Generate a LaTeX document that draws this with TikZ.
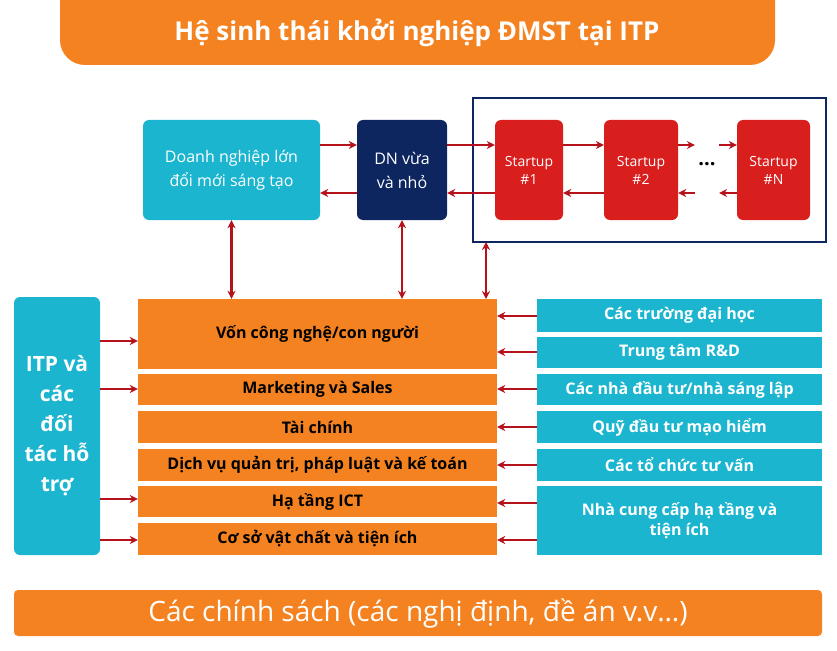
\documentclass[tikz,border=0pt]{standalone}
\usepackage{fontspec}
\setmainfont{Open Sans}
\usetikzlibrary{arrows.meta}
\definecolor{org}{HTML}{F58220}
\definecolor{cy}{HTML}{1CB5CF}
\definecolor{nv}{HTML}{0D2660}
\definecolor{rd}{HTML}{D91E1E}
\definecolor{ar}{HTML}{B5121B}
\begin{document}
\begin{tikzpicture}[x=1pt,y=-1pt,
 bx/.style={inner sep=0pt,align=center,text=white},
 ob/.style={bx,fill=org,text=black,font=\bfseries\fontsize{16}{19}\selectfont},
 cb/.style={bx,fill=cy,font=\bfseries\fontsize{16}{20}\selectfont},
 arr/.style={ar,line width=2.2pt,-{Stealth[length=8pt,width=8pt]}},
 darr/.style={ar,line width=2.2pt,{Stealth[length=8pt,width=8pt]}-{Stealth[length=8pt,width=8pt]}}]
\useasboundingbox (0,0) rectangle (837,650);
\fill[white] (0,0) rectangle (837,650);
\fill[org,rounded corners=25pt] (60,-30) rectangle (775,65);
\node[bx,font=\bfseries\fontsize{26}{29}\selectfont] (title) at (417,33) {Hệ sinh thái khởi nghiệp ĐMST tại ITP};
\node[bx,fill=cy,rounded corners=6pt,minimum width=177pt,minimum height=100pt,font=\fontsize{16}{24}\selectfont] (dnl) at (231.5,170) {Doanh nghiệp lớn\\đổi mới sáng tạo};
\node[bx,fill=nv,rounded corners=6pt,minimum width=90pt,minimum height=100pt,font=\fontsize{16}{24}\selectfont] (dnv) at (402,170) {DN vừa\\và nhỏ};
\draw[nv,line width=2pt] (473,98) rectangle (826,242);
\foreach \n/\x/\w/\t in {s1/529/68/1,s2/641/74/2,sn/773.5/73/N}
 \node[bx,fill=rd,rounded corners=6pt,minimum width=\w pt,minimum height=100pt,font=\fontsize{14}{18}\selectfont] (\n) at (\x,170) {Startup\\\#\t};
\node[font=\bfseries\fontsize{20}{20}\selectfont] (dots) at (707,164) {...};
\foreach \a/\b in {dnl/dnv,dnv/s1,s1/s2,s2/dots,dots/sn}{
 \draw[arr] (\a.east |- 0,145) -- (\b.west |- 0,145);
 \draw[arr] (\b.west |- 0,193) -- (\a.east |- 0,193);}
\node[bx,fill=cy,rounded corners=6pt,minimum width=86pt,minimum height=258pt,font=\bfseries\fontsize{21}{30}\selectfont] (itp) at (57,426) {ITP và\\các\\đối\\tác hỗ\\trợ};
\foreach \n/\ya/\yb/\t in {o1/299/369/{Vốn công nghệ/con người},o2/374/405/Marketing và Sales,o3/411/443/Tài chính,o4/449/481/{Dịch vụ quản trị, pháp luật và kế toán},o5/486/517/Hạ tầng ICT,o6/523/555/Cơ sở vật chất và tiện ích}
 \node[ob,minimum width=359pt,minimum height={\yb-\ya}] (\n) at (317.5,{(\ya+\yb)/2}) {\t};
\foreach \n/\ya/\yb/\t in {c1/299/332/Các trường đại học,c2/337/368/Trung tâm R\&D,c3/374/405/{Các nhà đầu tư/nhà sáng lập},c4/411/443/Quỹ đầu tư mạo hiểm,c5/449/481/Các tổ chức tư vấn,c6/486/555/{Nhà cung cấp hạ tầng và\\tiện ích}}
 \node[cb,minimum width=285pt,minimum height={\yb-\ya}] (\n) at (679.5,{(\ya+\yb)/2}) {\t};
\draw[darr] (dnl.south) -- (dnl.south |- o1.north);
\draw[darr] (dnv.south) -- (dnv.south |- o1.north);
\draw[darr] (486,242) -- (486,299);
\foreach \y in {341,389,499,540} \draw[arr] (itp.east |- 0,\y) -- (o1.west |- 0,\y);
\foreach \y in {316,352,389,427,465,503,540} \draw[arr] (c1.west |- 0,\y) -- (o1.east |- 0,\y);
\node[bx,fill=org,rounded corners=4pt,minimum width=808pt,minimum height=46pt,font=\fontsize{28}{30}\selectfont] (cs) at (418,613) {Các chính sách (các nghị định, đề án v.v…)};
\end{tikzpicture}
\end{document}
